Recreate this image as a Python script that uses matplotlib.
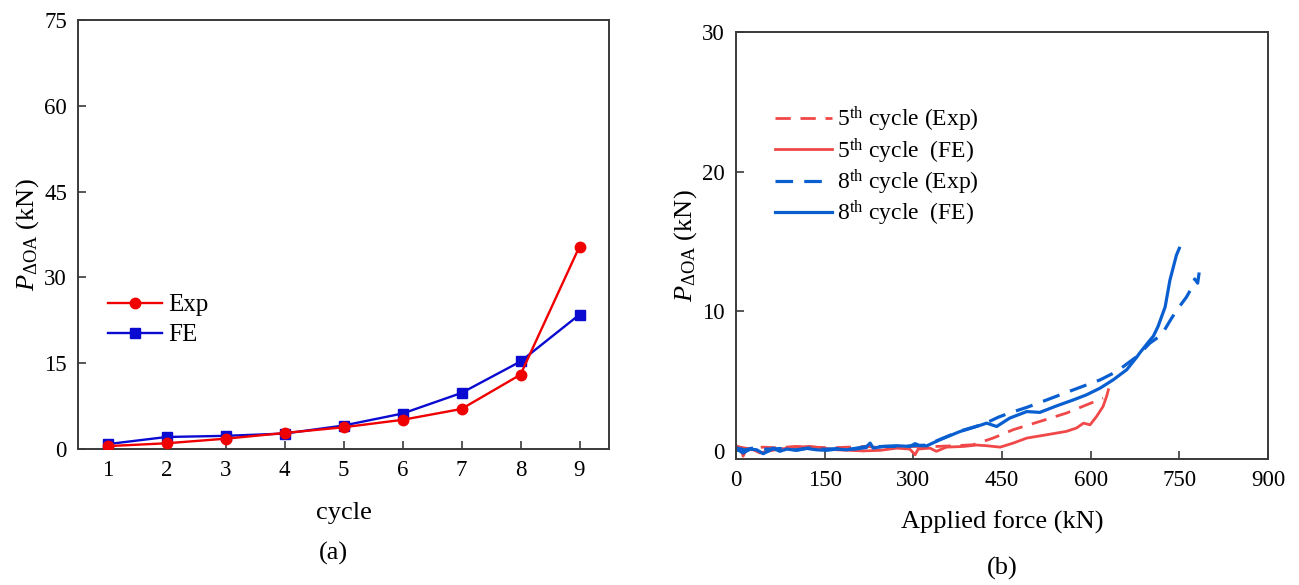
import matplotlib
matplotlib.use("Agg")
import matplotlib.pyplot as plt

plt.rcParams['font.family'] = ['Liberation Serif', 'DejaVu Serif']
plt.rcParams['mathtext.fontset'] = 'custom'
plt.rcParams['mathtext.rm'] = 'Liberation Serif'
plt.rcParams['mathtext.it'] = 'Liberation Serif:italic'
plt.rcParams['mathtext.bf'] = 'Liberation Serif:bold'

# ---- panel (a) data ----
cycles = [1, 2, 3, 4, 5, 6, 7, 8, 9]
exp_vals = [0.5, 1.0, 1.8, 2.8, 3.8, 5.1, 7.0, 13.0, 35.4]
fe_vals = [0.85, 2.1, 2.3, 2.7, 4.1, 6.2, 9.8, 15.3, 23.5]
xticks_a = [1, 2, 3, 4, 5, 6, 7, 8, 9]
yticks_a = [0, 15, 30, 45, 60, 75]

# ---- panel (b) data ----
c5_exp_x = [0, 20, 45, 70, 100, 130, 160, 190, 220, 250, 280, 310, 340, 370, 401, 435, 469, 514, 559, 593, 621]
c5_exp_y = [0.3, 0.15, 0.25, 0.2, 0.3, 0.25, 0.2, 0.25, 0.3, 0.2, 0.3, 0.3, 0.3, 0.35, 0.42, 0.9, 1.5, 2.09, 2.69, 3.28, 3.76]

c5_fe_x = [0, 8, 12, 18, 30, 40.6, 52, 74, 103, 125, 148, 170, 193, 215, 244, 272, 294, 303, 308, 328, 339, 356,
           385, 407, 424, 447, 469, 492, 526, 559, 576, 588, 599, 610, 621, 627, 630]
c5_fe_y = [0.35, 0.2, -0.4, 0.11, 0.05, -0.17, -0.05, 0.11, 0.26, 0.3, 0.18, 0.06, 0.02, -0.02, 0.02, 0.18, 0.11,
           -0.3, 0.11, 0.18, -0.05, 0.25, 0.3, 0.4, 0.35, 0.25, 0.54, 0.9, 1.14, 1.38, 1.62, 1.97, 1.85, 2.45,
           3.17, 3.9, 4.36]

c8_exp_x = [0, 15, 30, 50, 75, 100, 125, 150, 175, 200, 225, 250, 275, 300, 323, 345, 379, 407, 424, 444, 463,
            492, 526, 571, 616, 644, 678, 700, 720, 737, 748, 762, 770, 776, 781, 784]
c8_exp_y = [0.2, 0.05, 0.2, 0.1, 0.15, 0.05, 0.2, 0.1, 0.15, 0.1, 0.25, 0.3, 0.3, 0.35, 0.4, 0.8, 1.4, 1.75, 2.0,
            2.4, 2.7, 3.1, 3.64, 4.36, 5.07, 5.67, 6.74, 7.7, 8.3, 9.5, 10.2, 11.0, 11.6, 12.3, 12.0, 12.9]

c8_fe_x = [0, 1, 12, 24, 35, 46, 57.5, 63, 74, 86, 103, 119.5, 136, 153, 170, 187, 204, 221, 227, 232, 249, 272,
           294, 303, 311, 323, 345, 379, 407, 424, 441, 463, 492, 514, 542, 571, 593, 616, 638, 661, 678, 683,
           700, 706, 714, 726, 734, 745, 750]
c8_fe_y = [0.2, 0.11, -0.17, 0.11, 0.06, -0.22, 0.02, 0.18, -0.05, 0.11, 0.02, 0.16, 0.06, 0.02, 0.11, 0.06, 0.18,
           0.3, 0.54, 0.18, 0.3, 0.35, 0.3, 0.5, 0.35, 0.35, 0.78, 1.37, 1.73, 1.97, 1.73, 2.33, 2.8, 2.74, 3.2,
           3.64, 4.0, 4.48, 5.07, 5.8, 6.7, 7.0, 7.9, 8.2, 8.9, 10.3, 12.2, 14.0, 14.5]
xticks_b = [0, 150, 300, 450, 600, 750, 900]
yticks_b = [0, 10, 20, 30]

W, H = 1299, 585
fig = plt.figure(figsize=(W / 100, H / 100), dpi=100)

def px_axes(l, t, r, b):
    return fig.add_axes([l / W, 1 - b / H, (r - l) / W, (b - t) / H])

spine_col = '#3a3a3a'
fs_tick = 16.5
fs_lab = 19

def style(ax):
    for s in ax.spines.values():
        s.set_color(spine_col)
        s.set_linewidth(1.4)
    ax.tick_params(direction='in', length=6, width=1.2, color=spine_col,
                   labelsize=fs_tick, pad=8)

# ---- (a) ----
axa = px_axes(78, 20, 609, 449)
red_a = '#f00000'
blue_a = '#0a0ad0'
axa.plot(cycles, exp_vals, color=red_a, lw=1.7, marker='o', ms=7.5, label='Exp', zorder=3)
axa.plot(cycles, fe_vals, color=blue_a, lw=1.7, marker='s', ms=7, label='FE', zorder=2)
axa.set_xlim(0.5, 9.5)
axa.set_ylim(0, 75)
axa.set_xticks(xticks_a)
axa.set_yticks(yticks_a)
style(axa)
axa.set_xlabel('cycle', fontsize=fs_lab, labelpad=15)
axa.set_ylabel(r'$P_{\Delta\mathrm{OA}}$ (kN)', fontsize=fs_lab, labelpad=2)
axa.legend(loc='upper left', bbox_to_anchor=(0.038, 0.385), frameon=False, fontsize=18,
           handlelength=2.15, handletextpad=0.25, labelspacing=0.3, borderaxespad=0)
fig.text(333 / W, 1 - 553 / H, '(a)', ha='center', va='center', fontsize=fs_lab)

# ---- (b) ----
axb = px_axes(736, 32, 1268, 459)
red_b = '#f04848'
blue_b = '#0a5fd0'
axb.plot(c5_exp_x, c5_exp_y, color=red_b, lw=2.0, dashes=(5.5, 3.5), label=r'5$^{\mathrm{th}}$ cycle (Exp)')
axb.plot(c5_fe_x, c5_fe_y, color=red_b, lw=2.0, label=r'5$^{\mathrm{th}}$ cycle  (FE)')
axb.plot(c8_exp_x, c8_exp_y, color=blue_b, lw=2.3, dashes=(5.5, 3.5), label=r'8$^{\mathrm{th}}$ cycle (Exp)')
axb.plot(c8_fe_x, c8_fe_y, color=blue_b, lw=2.3, label=r'8$^{\mathrm{th}}$ cycle  (FE)')
axb.set_xlim(0, 900)
axb.set_ylim(-0.6, 30)
axb.set_xticks(xticks_b)
axb.set_yticks(yticks_b)
style(axb)
axb.set_xlabel('Applied force (kN)', fontsize=fs_lab, labelpad=14)
axb.set_ylabel(r'$P_{\Delta\mathrm{OA}}$ (kN)', fontsize=fs_lab, labelpad=2)
axb.legend(loc='upper left', bbox_to_anchor=(0.056, 0.852), frameon=False, fontsize=17,
           handlelength=2.4, handletextpad=0.2, labelspacing=0.08, borderaxespad=0)
fig.text(1002 / W, 1 - 568 / H, '(b)', ha='center', va='center', fontsize=fs_lab)

fig.savefig('out.png', dpi=100)
